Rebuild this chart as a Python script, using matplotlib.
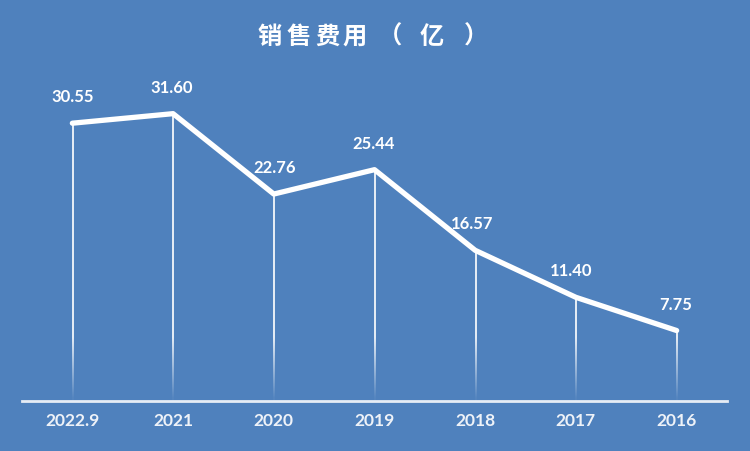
import numpy as np
import matplotlib.pyplot as plt

plt.rcParams['font.family'] = ['Noto Sans CJK SC', 'DejaVu Sans']

years = ["2022.9", "2021", "2020", "2019", "2018", "2017", "2016"]
sales_cost = [30.55, 31.60, 22.76, 25.44, 16.57, 11.40, 7.75]
labels = ["30.55", "31.60", "22.76", "25.44", "16.57", "11.40", "7.75"]
title_chars = ["销", "售", "费", "用", "（", "亿", "）"]

bg = "#4F81BD"

fig = plt.figure(figsize=(7.5, 4.51), dpi=100)
fig.patch.set_facecolor(bg)
ax = fig.add_axes([22/750, 50/451, 705/750, 341/451])
ax.set_facecolor(bg)

x = np.arange(len(years))

# drop lines: white, fading out towards the axis
grad = np.zeros((200, 1, 4))
grad[..., :3] = 1.0
fade = np.linspace(1, 0, 200)  # row 0 = top
for xi, yi in zip(x, sales_cost):
    a = np.clip((1 - fade) * yi / 7.0, 0, 1)
    a = a[::-1]
    g = grad.copy()
    g[:, 0, 3] = 0.85 * np.clip(np.linspace(yi, 0, 200) / 7.0, 0.05, 1.0)
    ax.imshow(g, extent=(xi - 0.006, xi + 0.006, 0, yi), aspect="auto",
              interpolation="bilinear", zorder=2)

ax.plot(x, sales_cost, color="white", lw=3.8, solid_capstyle="round",
        solid_joinstyle="round", zorder=3)

offsets = [0, -1, 1, -1, -3, -5, -1]
for xi, yi, lab, dx in zip(x, sales_cost, labels, offsets):
    ax.annotate(lab, (xi, yi), xytext=(dx * 0.72, 18.7), textcoords="offset points",
                ha="center", va="center", color="white", fontsize=12,
                fontweight="bold", family=["Lato", "DejaVu Sans"])

ax.set_xlim(-0.5, len(years) - 0.5)
ax.set_ylim(0, 37.5)
ax.set_yticks([])
ax.set_xticks(x)
ax.set_xticklabels(years, color="#EEF2F8", fontsize=12.5, fontweight="bold",
                   family=["Lato", "DejaVu Sans"])
ax.tick_params(axis="x", length=0, pad=9)
for s in ["top", "right", "left"]:
    ax.spines[s].set_visible(False)
ax.spines["bottom"].set_color("#E6ECF5")
ax.spines["bottom"].set_linewidth(2)

# title, one glyph at a time to get the wide spacing
title_x = [270, 299, 327, 355, 390, 432, 476]
for ch, tx in zip(title_chars, title_x):
    fig.text(tx / 750, 1 - 37/451, ch, ha="center", va="center",
             color="white", fontsize=17.5, fontweight="bold")

fig.savefig("out.png", dpi=100, facecolor=bg)
